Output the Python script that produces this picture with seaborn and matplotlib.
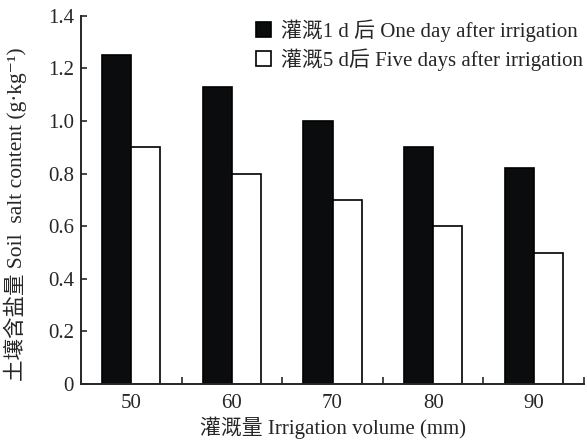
import matplotlib
matplotlib.use("Agg")
import matplotlib.pyplot as plt
import seaborn as sns
import pandas as pd
import numpy as np
from matplotlib.patches import Patch

volumes = ["50", "60", "70", "80", "90"]
day1 = [1.25, 1.13, 1.00, 0.90, 0.82]
day5 = [0.90, 0.80, 0.70, 0.60, 0.50]
series_names = ["灌溉1 d 后 One day after irrigation", "灌溉5 d后 Five days after irrigation"]
y_ticks = [0, 0.2, 0.4, 0.6, 0.8, 1.0, 1.2, 1.4]
y_tick_labels = ["0", "0.2", "0.4", "0.6", "0.8", "1.0", "1.2", "1.4"]

df = pd.DataFrame({
    "volume": volumes * 2,
    "value": day1 + day5,
    "series": [series_names[0]] * len(volumes) + [series_names[1]] * len(volumes),
})

sns.set_style("ticks")
fonts = ["Liberation Serif", "Noto Sans CJK SC", "DejaVu Sans"]
plt.rcParams["font.family"] = fonts

fig = plt.figure(figsize=(5.87, 4.40), dpi=100)
ax = fig.add_axes([0.138, 0.1273, 0.857, 0.8367])

sns.barplot(data=df, x="volume", y="value", hue="series", order=volumes,
            hue_order=series_names, palette=["#0a0c0d", "white"],
            edgecolor="black", linewidth=1.2, width=0.58, ax=ax,
            errorbar=None, legend=False)

ax.set_xlim(-0.5, 4.5)
ax.set_ylim(0, 1.4)
ax.set_yticks(y_ticks)
ax.set_yticklabels(y_tick_labels, fontsize=15)
ax.set_xticks(range(len(volumes)))
ax.set_xticklabels(volumes, fontsize=15)
ax.tick_params(axis="x", which="major", length=0, pad=7)
ax.set_xticks(np.arange(0.5, 5.0, 1.0), minor=True)
ax.tick_params(axis="x", which="minor", direction="in", length=5, width=1.2)
ax.tick_params(axis="y", direction="in", length=4, width=1.2, pad=5)
for s in ["top", "right"]:
    ax.spines[s].set_visible(False)
for s in ["left", "bottom"]:
    ax.spines[s].set_linewidth(1.4)

ax.set_xlabel("灌溉量 Irrigation volume (mm)", fontsize=15, labelpad=3)
ax.set_ylabel("土壤含盐量 Soil  salt content (g·kg⁻¹)", fontsize=15.5)
ax.yaxis.set_label_coords(-0.107, 0.462)

handles = [Patch(facecolor="#0a0c0d", edgecolor="black", linewidth=1.2),
           Patch(facecolor="white", edgecolor="black", linewidth=1.2)]
fig.legend(handles, series_names, loc="upper right", bbox_to_anchor=(1.0, 0.965),
           frameon=False, fontsize=15, handlelength=0.75, handleheight=0.75,
           handletextpad=0.45, labelspacing=0.28, borderaxespad=0.0, borderpad=0.2)

fig.savefig("out.png", dpi=100)
